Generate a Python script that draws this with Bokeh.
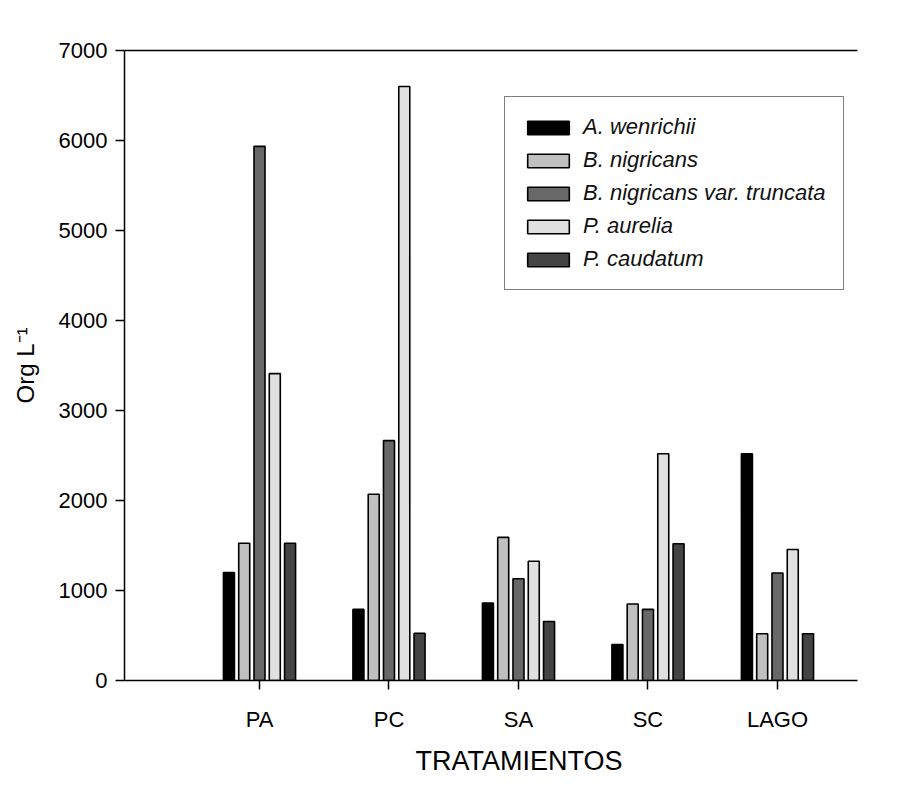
from bokeh.plotting import figure
from bokeh.models import (ColumnDataSource, FixedTicker, LinearAxis, Range1d,
                          Legend, LegendItem, Title)
from bokeh.transform import dodge
from bokeh.embed import file_html
from bokeh.resources import INLINE

# Treatments on the x axis and ciliate densities (Org L-1) per species
treatments = ["PA", "PC", "SA", "SC", "LAGO"]
species = ["A. wenrichii", "B. nigricans", "B. nigricans var. truncata",
           "P. aurelia", "P. caudatum"]
a_wenrichii = [1200, 790, 860, 400, 2520]
b_nigricans = [1525, 2070, 1590, 850, 520]
b_nigricans_truncata = [5935, 2665, 1130, 790, 1195]
p_aurelia = [3410, 6600, 1325, 2520, 1455]
p_caudatum = [1525, 525, 655, 1520, 520]
y_ticks = [0, 1000, 2000, 3000, 4000, 5000, 6000, 7000]

series = [a_wenrichii, b_nigricans, b_nigricans_truncata, p_aurelia, p_caudatum]
fills = ["#000000", "#c0c0c0", "#686868", "#e0e0e0", "#444444"]

positions = list(range(1, len(treatments) + 1))
data = {"pos": positions}
for i, vals in enumerate(series):
    data[f"s{i}"] = vals
source = ColumnDataSource(data)

FONT = "Liberation Sans"

p = figure(width=899, height=785, output_backend="svg", toolbar_location=None,
           x_range=Range1d(-0.0425, 5.618), y_range=Range1d(0, 7000),
           min_border_left=124, min_border_right=42, min_border_top=50,
           min_border_bottom=105)
p.outline_line_color = None
p.xgrid.visible = False
p.ygrid.visible = False
p.background_fill_color = "white"
p.border_fill_color = "white"

step = 0.118
bar_w = 0.085
renderers = []
for i, (name, col) in enumerate(zip(species, fills)):
    r = p.vbar(x=dodge("pos", (i - 2) * step, range=p.x_range), top=f"s{i}",
               width=bar_w, bottom=0, source=source, fill_color=col,
               line_color="black", line_width=1.6)
    renderers.append(r)

# y axis
yax = p.yaxis[0]
yax.ticker = FixedTicker(ticks=y_ticks)
yax.minor_tick_line_color = None
yax.major_tick_in = 0
yax.major_tick_out = 9
yax.major_tick_line_width = 1.5
yax.axis_line_width = 1.5
yax.major_label_standoff = 8
yax.major_label_text_font = FONT
yax.major_label_text_font_size = "22px"
yax.major_label_text_color = "black"
yax.axis_label = "Org L\u207b\u00b9"
yax.axis_label_text_font = FONT
yax.axis_label_text_font_size = "24px"
yax.axis_label_text_font_style = "normal"
yax.axis_label_text_color = "black"
yax.axis_label_standoff = 17

# x axis
xax = p.xaxis[0]
xax.ticker = FixedTicker(ticks=positions)
xax.major_label_overrides = {pos: t for pos, t in zip(positions, treatments)}
xax.minor_tick_line_color = None
xax.major_tick_in = 0
xax.major_tick_out = 9
xax.major_tick_line_width = 1.5
xax.axis_line_width = 1.5
xax.major_label_standoff = 17
xax.major_label_text_font = FONT
xax.major_label_text_font_size = "22px"
xax.major_label_text_color = "black"

# x axis title, placed a little right of the frame centre
p.add_layout(Title(text="TRATAMIENTOS", align="left", offset=291,
                   text_font=FONT, text_font_size="27px",
                   text_font_style="normal", text_color="black",
                   standoff=19), "below")

# plain line along the top of the plotting area
top = LinearAxis(ticker=FixedTicker(ticks=[]), major_label_text_font_size="0px",
                 major_tick_line_color=None, minor_tick_line_color=None,
                 axis_line_width=1.5)
p.add_layout(top, "above")

legend = Legend(
    items=[LegendItem(label=name, renderers=[r]) for name, r in zip(species, renderers)],
    location=(380, 390),
    padding=17, spacing=7, margin=0,
    glyph_width=52, glyph_height=17, label_height=24, label_standoff=9,
    label_text_font=FONT, label_text_font_size="22px",
    label_text_font_style="italic", label_text_color="#111111",
    border_line_color="black", border_line_width=1.5,
    background_fill_color="white", background_fill_alpha=1.0,
)
p.add_layout(legend, "center")

open("out.html", "w").write(file_html(p, INLINE))
